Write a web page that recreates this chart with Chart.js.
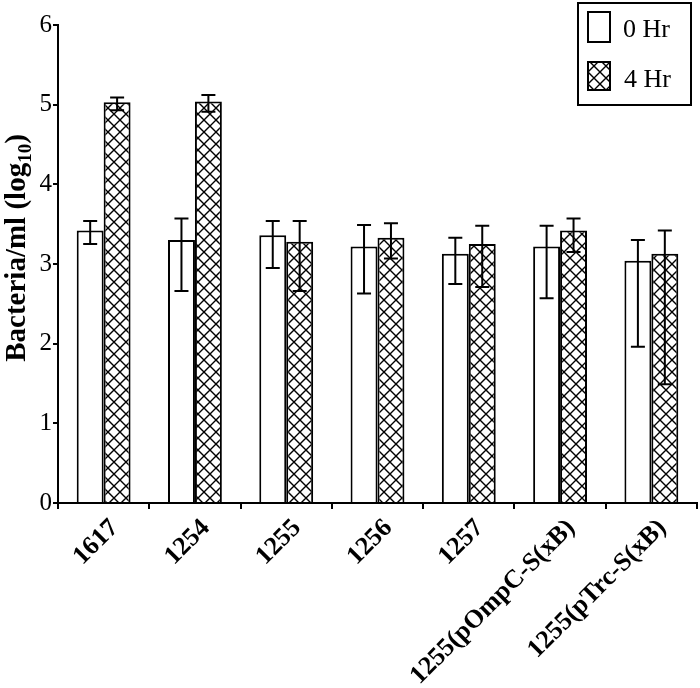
<!DOCTYPE html>
<html>
<head>
<meta charset="utf-8">
<script src="https://cdn.jsdelivr.net/npm/chart.js@4.4.1/dist/chart.umd.min.js"></script>
<style>
  html, body { margin: 0; padding: 0; background: #fff; }
  #wrap { width: 700px; height: 688px; }
</style>
</head>
<body>
<div id="wrap"><canvas id="bactChart" width="700" height="688"></canvas></div>
<script>
const strains = ['1617', '1254', '1255', '1256', '1257', '1255(pOmpC-S(xB)', '1255(pTrc-S(xB)'];
const yTicks = [0, 1, 2, 3, 4, 5, 6];

const hr0 = [3.42, 3.30, 3.36, 3.22, 3.13, 3.22, 3.04];
const hr0High = [3.54, 3.57, 3.54, 3.49, 3.33, 3.48, 3.30];
const hr0Low = [3.25, 2.66, 2.95, 2.63, 2.75, 2.57, 1.96];

const hr4 = [5.03, 5.04, 3.28, 3.33, 3.25, 3.42, 3.13];
const hr4High = [5.09, 5.12, 3.54, 3.51, 3.48, 3.57, 3.42];
const hr4Low = [4.93, 4.91, 2.66, 3.07, 2.71, 3.15, 1.49];

// cross-hatch fill for the 4 Hr bars
function makeHatch() {
    const c = document.createElement('canvas');
    c.width = 12;
    c.height = 12;
    const g = c.getContext('2d');
    g.fillStyle = '#fff';
    g.fillRect(0, 0, 12, 12);
    g.strokeStyle = '#000';
    g.lineWidth = 1.4;
    g.beginPath();
    g.moveTo(0, 0); g.lineTo(12, 12);
    g.moveTo(12, 0); g.lineTo(0, 12);
    g.stroke();
    return g.createPattern(c, 'repeat');
}

const ctx = document.getElementById('bactChart').getContext('2d');
const hatch = makeHatch();

const errorBars = {
    id: 'errorBars',
    afterDatasetsDraw(chart) {
        const g = chart.ctx;
        const y = chart.scales.y;
        const highs = [hr0High, hr4High];
        const lows = [hr0Low, hr4Low];
        g.save();
        g.strokeStyle = '#000';
        g.lineWidth = 2;
        chart.data.datasets.forEach((ds, i) => {
            chart.getDatasetMeta(i).data.forEach((bar, j) => {
                const top = y.getPixelForValue(highs[i][j]);
                const bot = y.getPixelForValue(lows[i][j]);
                g.beginPath();
                g.moveTo(bar.x, top); g.lineTo(bar.x, bot);
                g.moveTo(bar.x - 7, top); g.lineTo(bar.x + 7, top);
                g.moveTo(bar.x - 7, bot); g.lineTo(bar.x + 7, bot);
                g.stroke();
            });
        });
        g.restore();
    }
};

// y title with a real subscript: Bacteria/ml (log10)
const yTitle = {
    id: 'yTitle',
    afterDraw(chart) {
        const g = chart.ctx;
        const mainFont = 'bold 29px "Liberation Serif"';
        const subFont = 'bold 19px "Liberation Serif"';
        const parts = [['Bacteria/ml (log', mainFont, 0], ['10', subFont, 6], [')', mainFont, 0]];
        g.save();
        g.fillStyle = '#000';
        g.textBaseline = 'alphabetic';
        g.textAlign = 'left';
        let total = 0;
        parts.forEach(p => { g.font = p[1]; total += g.measureText(p[0]).width; });
        g.translate(25, 248);
        g.rotate(-Math.PI / 2);
        let x = -total / 2;
        parts.forEach(p => {
            g.font = p[1];
            g.fillText(p[0], x, p[2]);
            x += g.measureText(p[0]).width;
        });
        g.restore();
    }
};

const boxLegend = {
    id: 'boxLegend',
    afterDraw(chart) {
        const g = chart.ctx;
        g.save();
        g.strokeStyle = '#000';
        g.lineWidth = 2;
        g.fillStyle = '#fff';
        g.fillRect(578, 3, 113, 102);
        g.strokeRect(578, 3, 113, 102);
        g.fillStyle = '#fff';
        g.fillRect(588, 12, 22, 30);
        g.strokeRect(588, 12, 22, 30);
        g.fillStyle = hatch;
        g.fillRect(588, 62, 22, 28);
        g.strokeRect(588, 62, 22, 28);
        g.fillStyle = '#000';
        g.font = '26px "Liberation Serif"';
        g.textBaseline = 'middle';
        g.fillText(chart.data.datasets[0].label, 623, 30);
        g.fillText(chart.data.datasets[1].label, 624, 80);
        g.restore();
    }
};

new Chart(ctx, {
    type: 'bar',
    data: {
        labels: strains,
        datasets: [{
            label: '0 Hr',
            data: hr0,
            backgroundColor: '#fff',
            borderColor: '#000',
            borderWidth: 2,
            categoryPercentage: 0.59,
            barPercentage: 1.0
        }, {
            label: '4 Hr',
            data: hr4,
            backgroundColor: hatch,
            borderColor: '#000',
            borderWidth: 2,
            categoryPercentage: 0.59,
            barPercentage: 1.0
        }]
    },
    options: {
        responsive: false,
        animation: false,
        layout: { padding: { top: 25, right: 3, left: 0, bottom: 0 } },
        plugins: {
            legend: { display: false },
            tooltip: { enabled: false }
        },
        scales: {
            x: {
                grid: { display: true, drawOnChartArea: false, tickLength: 6, color: '#000', lineWidth: 2 },
                border: { color: '#000', width: 2 },
                ticks: {
                    color: '#000',
                    font: { family: 'Liberation Serif', size: 26, weight: 'bold' },
                    maxRotation: 45,
                    minRotation: 45,
                    labelOffset: 11,
                    padding: 4
                },
                afterFit(scale) { scale.height = 185; }
            },
            y: {
                min: 0,
                max: 6,
                afterBuildTicks(scale) { scale.ticks = yTicks.map(v => ({ value: v })); },
                grid: { display: true, drawOnChartArea: false, tickLength: 5, color: '#000', lineWidth: 2 },
                border: { color: '#000', width: 2 },
                ticks: {
                    color: '#000',
                    font: { family: 'Liberation Serif', size: 25 },
                    padding: 1
                },
                afterFit(scale) { scale.width = 58; }
            }
        }
    },
    plugins: [errorBars, yTitle, boxLegend]
});
</script>
</body>
</html>
